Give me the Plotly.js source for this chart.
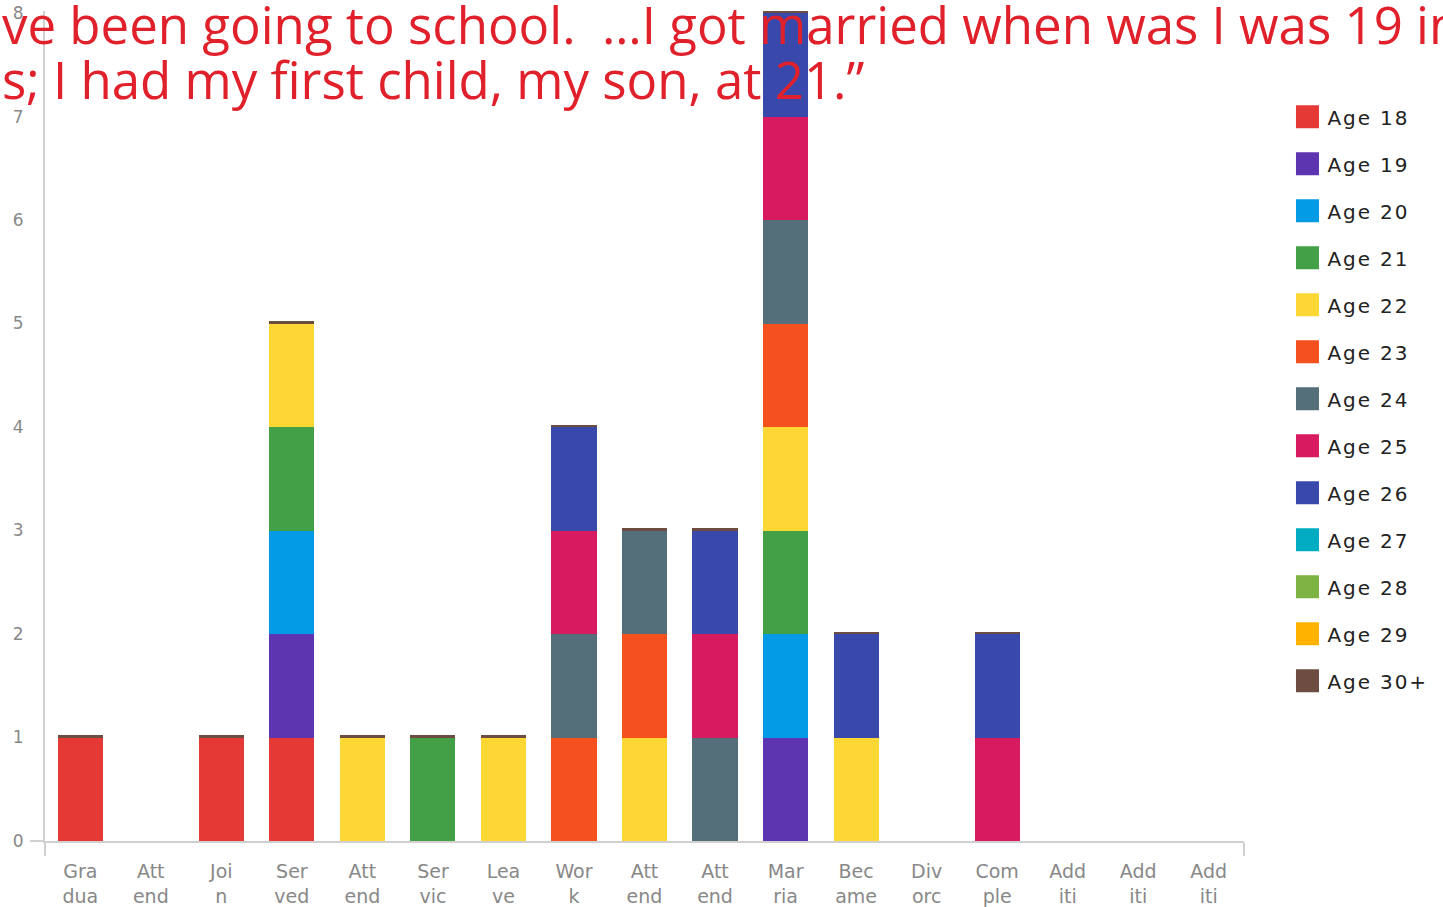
<!DOCTYPE html>
<html><head><meta charset="utf-8">
<script src="https://cdn.plot.ly/plotly-3.0.1.min.js"></script>
<style>
html,body{margin:0;padding:0;background:#fff;overflow:hidden}
#chart{width:1443px;height:907px}
.legendtext{letter-spacing:1.9px}
</style>
</head><body><div id="chart"></div><script>
const categories = ["Gradua","Attend","Join","Served","Attend","Servic","Leave","Work","Attend","Attend","Marria","Became","Divorc","Comple","Additi","Additi","Additi"];
const tickLabels = ["Gra<br>dua","Att<br>end","Joi<br>n","Ser<br>ved","Att<br>end","Ser<br>vic","Lea<br>ve","Wor<br>k","Att<br>end","Att<br>end","Mar<br>ria","Bec<br>ame","Div<br>orc","Com<br>ple","Add<br>iti","Add<br>iti","Add<br>iti"];
const seriesNames = ["Age 18","Age 19","Age 20","Age 21","Age 22","Age 23","Age 24","Age 25","Age 26","Age 27","Age 28","Age 29","Age 30+"];
const seriesColors = ["#E53935","#5E35B1","#039BE5","#43A047","#FDD835","#F4511E","#546E7A","#D81B60","#3949AB","#00ACC1","#7CB342","#FFB300","#6D4C41"];
const age18  = [1,0,1,1,0,0,0,0,0,0,0,0,0,0,0,0,0];
const age19  = [0,0,0,1,0,0,0,0,0,0,1,0,0,0,0,0,0];
const age20  = [0,0,0,1,0,0,0,0,0,0,1,0,0,0,0,0,0];
const age21  = [0,0,0,1,0,1,0,0,0,0,1,0,0,0,0,0,0];
const age22  = [0,0,0,1,1,0,1,0,1,0,1,1,0,0,0,0,0];
const age23  = [0,0,0,0,0,0,0,1,1,0,1,0,0,0,0,0,0];
const age24  = [0,0,0,0,0,0,0,1,1,1,1,0,0,0,0,0,0];
const age25  = [0,0,0,0,0,0,0,1,0,1,1,0,0,1,0,0,0];
const age26  = [0,0,0,0,0,0,0,1,0,1,1,1,0,1,0,0,0];
const age27  = [0,0,0,0,0,0,0,0,0,0,0,0,0,0,0,0,0];
const age28  = [0,0,0,0,0,0,0,0,0,0,0,0,0,0,0,0,0];
const age29  = [0,0,0,0,0,0,0,0,0,0,0,0,0,0,0,0,0];
const age30p = [0.02,0,0.02,0.02,0.02,0.02,0.02,0.02,0.02,0.02,0.02,0.02,0,0.02,0,0,0];
const titleLine1 = "ve been going to school.  …I got married when was I was 19 in";
const titleLine2 = "s; I had my first child, my son, at 21.”";

const seriesValues = [age18,age19,age20,age21,age22,age23,age24,age25,age26,age27,age28,age29,age30p];
const xIdx = categories.map((c,i)=>i);

const traces = seriesValues.map((vals,k)=>({
  type:'bar', name:seriesNames[k], x:xIdx, y:vals,
  marker:{color:seriesColors[k], line:{width:0}},
  legendgroup:'g'+k, hoverinfo:'name+y'
}));

const layout = {
  width:1443, height:907,
  margin:{l:45, r:198, t:11, b:66, pad:0},
  paper_bgcolor:'#fff', plot_bgcolor:'#fff',
  barmode:'stack', bargap:0.36,
  font:{family:'DejaVu Sans, sans-serif', color:'#888'},
  xaxis:{
    range:[-0.5,16.5], tickmode:'array', tickvals:xIdx, ticktext:tickLabels,
    showgrid:false, zeroline:false, showline:true, linecolor:'#d0d0d0', linewidth:2,
    ticks:'', ticklabelstandoff:12, tickfont:{family:'DejaVu Sans, sans-serif', size:19, color:'#888'},
    minor:{tickvals:[-0.5,16.5], ticks:'outside', ticklen:13, tickcolor:'#d0d0d0', tickwidth:2}
  },
  yaxis:{
    range:[0,8.02], tickmode:'array', tickvals:[0,1,2,3,4,5,6,7,8],
    showgrid:false, zeroline:false, showline:true, linecolor:'#d0d0d0', linewidth:2,
    ticks:'', ticklabelstandoff:16, tickfont:{family:'DejaVu Sans, sans-serif', size:17, color:'#888'},
    minor:{tickvals:[0], ticks:'outside', ticklen:13, tickcolor:'#d0d0d0', tickwidth:2}
  },
  showlegend:true,
  legend:{x:1.0354, xanchor:'left', y:0.896, yanchor:'top', traceorder:'grouped', tracegroupgap:18,
    font:{family:'DejaVu Sans, sans-serif', size:20, color:'#222'}, bgcolor:'rgba(0,0,0,0)', borderwidth:0},
  annotations:[
    {xref:'paper', yref:'paper', x:-0.0375, y:1.0295, xanchor:'left', yanchor:'top', showarrow:false, align:'left',
     text:titleLine1, font:{family:'Open Sans, sans-serif', size:51, color:'#E0202A'}},
    {xref:'paper', yref:'paper', x:-0.0375, y:0.9625, xanchor:'left', yanchor:'top', showarrow:false, align:'left',
     text:titleLine2, font:{family:'Open Sans, sans-serif', size:51, color:'#E0202A'}}
  ]
};

function fixSwatches(){
  document.querySelectorAll('#chart .legend .legendpoints path').forEach(p=>{
    p.setAttribute('d','M11.5,11.5H-11.5V-11.5H11.5Z');
  });
}
const gd = document.getElementById('chart');
Plotly.newPlot(gd, traces, layout, {displayModeBar:false, responsive:false}).then(()=>{
  fixSwatches();
  gd.on('plotly_afterplot', fixSwatches);
});
</script></body></html>
